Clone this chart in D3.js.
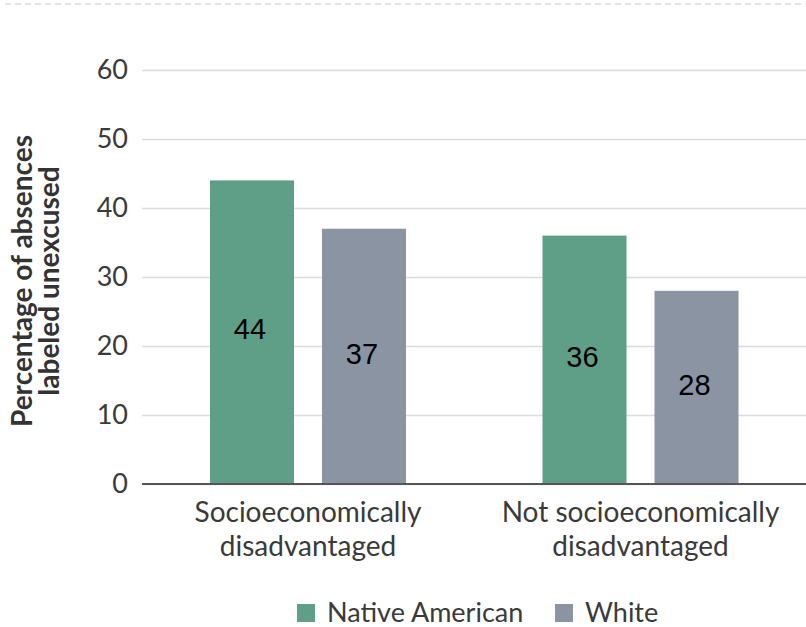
<!DOCTYPE html>
<html>
<head>
<meta charset="utf-8">
<script src="https://cdn.jsdelivr.net/npm/d3@7"></script>
<style>
  body { margin: 0; background: #fff; }
  svg { display: block; font-family: Lato, "Open Sans", sans-serif; }
</style>
</head>
<body>
<div id="chart"></div>
<script>
const width = 806;
const height = 627;
const margin = { top: 70, right: 0, bottom: 143, left: 142 };
const innerWidth = width - margin.left - margin.right;
const innerHeight = height - margin.top - margin.bottom;

// Data
const groups = ["Socioeconomically disadvantaged", "Not socioeconomically disadvantaged"];
const groupLines = [["Socioeconomically", "disadvantaged"], ["Not socioeconomically", "disadvantaged"]];
const series = ["Native American", "White"];
const nativeAmerican = [44, 36];
const white = [37, 28];
const yTicks = [0, 10, 20, 30, 40, 50, 60];
const colors = ["#5f9e87", "#8a94a3"];

const data = groups.map((g, i) => ({ group: g, values: [nativeAmerican[i], white[i]] }));

const svg = d3.select("#chart")
  .append("svg")
    .attr("width", width)
    .attr("height", height);

// Top dashed rule
svg.append("line")
  .attr("x1", 5).attr("x2", width)
  .attr("y1", 4).attr("y2", 4)
  .attr("stroke", "#e3e3e3")
  .attr("stroke-width", 2)
  .attr("stroke-dasharray", "6,4");

const innerChart = svg.append("g")
  .attr("transform", `translate(${margin.left}, ${margin.top})`);

/* Scales */
const yScale = d3.scaleLinear()
  .domain([0, 60])
  .range([innerHeight, 0]);

// group centres, inside the inner chart
const groupCenter = d3.scaleOrdinal()
  .domain(groups)
  .range([166, 498.5]);

// bars within a group
const xSub = d3.scaleBand()
  .domain(series)
  .range([0, 196])
  .paddingInner(0.25);

const colorScale = d3.scaleOrdinal()
  .domain(series)
  .range(colors);

/* Gridlines + y axis */
const leftAxis = d3.axisLeft(yScale)
  .tickValues(yTicks)
  .tickSize(-innerWidth)
  .tickPadding(14);

innerChart.append("g")
  .attr("class", "axis-y")
  .call(leftAxis)
  .call(g => g.select(".domain").remove())
  .call(g => g.selectAll(".tick line").attr("stroke", "#dcdcdc").attr("stroke-width", 1.5))
  .call(g => g.selectAll(".tick text")
    .attr("fill", "#3a3a3a")
    .style("font-size", "27px")
    .style("font-family", "Lato, 'Open Sans', sans-serif"));

/* Bars */
const groupG = innerChart.selectAll(".group")
  .data(data)
  .join("g")
    .attr("class", "group")
    .attr("transform", d => `translate(${groupCenter(d.group) - 98}, 0)`);

groupG.selectAll("rect")
  .data(d => d.values.map((v, i) => ({ key: series[i], value: v })))
  .join("rect")
    .attr("x", d => xSub(d.key))
    .attr("y", d => yScale(d.value))
    .attr("width", xSub.bandwidth())
    .attr("height", d => innerHeight - yScale(d.value))
    .attr("fill", d => colorScale(d.key));

groupG.selectAll(".value")
  .data(d => d.values.map((v, i) => ({ key: series[i], value: v })))
  .join("text")
    .attr("class", "value")
    .attr("x", d => xSub(d.key) + xSub.bandwidth() / 2 - 2)
    .attr("y", d => (yScale(d.value) + innerHeight) / 2 - 3)
    .attr("dy", "0.35em")
    .attr("text-anchor", "middle")
    .style("font-family", "Arial, 'Liberation Sans', sans-serif")
    .style("font-size", "29px")
    .attr("fill", "#000")
    .text(d => d.value);

/* Baseline */
innerChart.append("line")
  .attr("x1", 0).attr("x2", innerWidth)
  .attr("y1", yScale(0)).attr("y2", yScale(0))
  .attr("stroke", "#555")
  .attr("stroke-width", 2);

/* Category labels */
const catLabels = innerChart.selectAll(".cat")
  .data(groups)
  .join("text")
    .attr("class", "cat")
    .attr("text-anchor", "middle")
    .attr("fill", "#3a3a3a")
    .style("font-size", "28px")
    .attr("transform", d => `translate(${groupCenter(d)}, ${innerHeight + 38})`);

catLabels.selectAll("tspan")
  .data((d, i) => groupLines[i])
  .join("tspan")
    .attr("x", 0)
    .attr("dy", (d, i) => i === 0 ? 0 : 34)
    .text(d => d);

/* Y axis label */
svg.append("text")
  .attr("transform", "translate(22, 281) rotate(-90)")
  .attr("text-anchor", "middle")
  .attr("fill", "#333")
  .style("font-size", "28px")
  .style("font-weight", "bold")
  .selectAll("tspan")
  .data(["Percentage of absences", "labeled unexcused"])
  .join("tspan")
    .attr("x", 0)
    .attr("dy", (d, i) => i === 0 ? "0.35em" : 27)
    .text(d => d);

/* Legend */
const legend = svg.append("g")
  .attr("transform", "translate(0, 613)");

const legendItems = [{ key: series[0], x: 297 }, { key: series[1], x: 555 }];
const item = legend.selectAll(".legend-item")
  .data(legendItems)
  .join("g")
    .attr("class", "legend-item")
    .attr("transform", d => `translate(${d.x}, 0)`);

item.append("rect")
  .attr("x", 0).attr("y", -9)
  .attr("width", 18).attr("height", 18)
  .attr("fill", d => colorScale(d.key));

item.append("text")
  .attr("x", 30)
  .attr("dy", "0.35em")
  .attr("fill", "#3a3a3a")
  .style("font-size", "27px")
  .text(d => d.key);
</script>
</body>
</html>
